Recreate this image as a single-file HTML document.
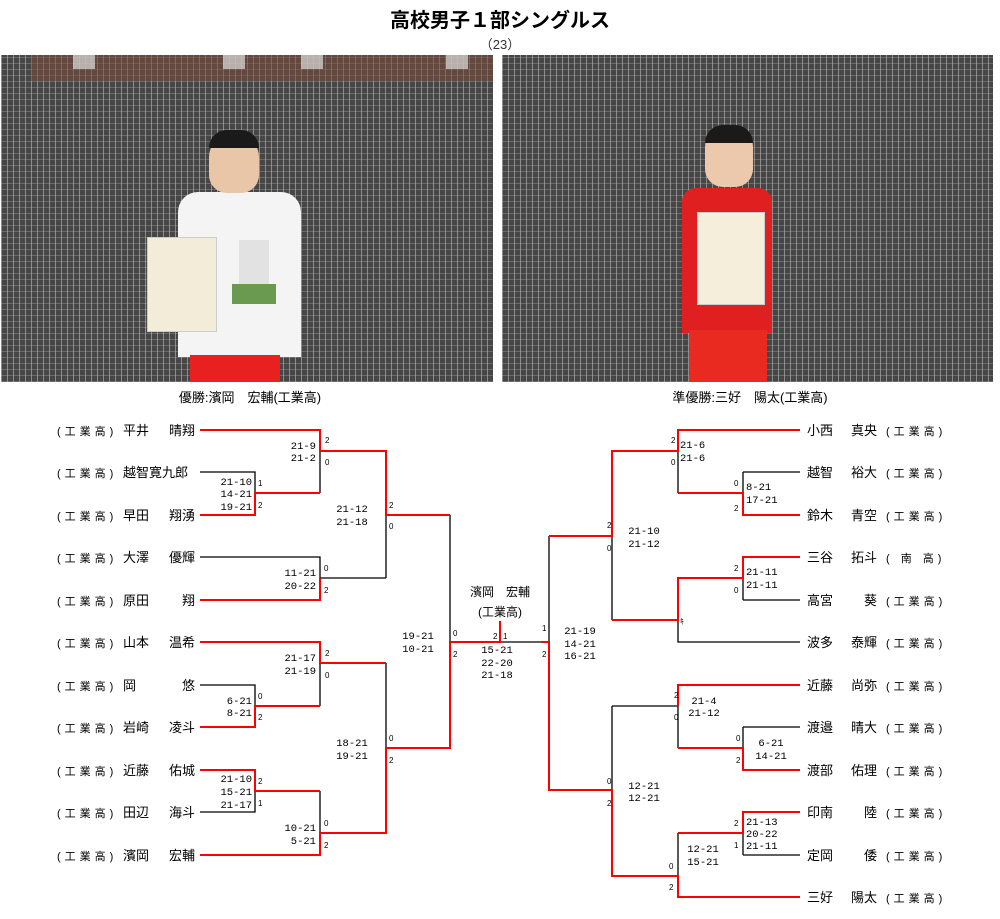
<!DOCTYPE html>
<html><head><meta charset="utf-8"><style>
html,body{margin:0;padding:0;background:#fff;}
body{width:1000px;height:919px;position:relative;overflow:hidden;font-family:"Liberation Sans","Noto Sans CJK JP",sans-serif;}
.ph{position:absolute;top:55px;height:327px;background-color:#464646;
background-image:repeating-linear-gradient(90deg,rgba(185,185,185,.6) 0 1px,transparent 1px 6px),repeating-linear-gradient(0deg,rgba(160,160,160,.4) 0 1px,transparent 1px 6px);}
.a{position:absolute;}
</style></head><body>
<div class="a" style="left:0;top:4px;width:1000px;text-align:center;font-size:20px;font-weight:bold;">高校男子１部シングルス</div>
<div class="a" style="left:0;top:34px;width:1000px;text-align:center;font-size:13px;color:#333;">（23）</div>

<div class="ph" style="left:1px;width:492px;">
  <div class="a" style="left:30px;top:0;width:462px;height:26px;background:#7a4a38;opacity:.55"></div>
  <div class="a" style="left:72px;top:0;width:22px;height:14px;background:#ddd;opacity:.7"></div>
  <div class="a" style="left:222px;top:0;width:22px;height:14px;background:#ddd;opacity:.7"></div>
  <div class="a" style="left:300px;top:0;width:22px;height:14px;background:#ddd;opacity:.7"></div>
  <div class="a" style="left:445px;top:0;width:22px;height:14px;background:#ddd;opacity:.7"></div>
  <div class="a" style="left:177px;top:137px;width:123px;height:165px;background:#f4f4f4;border-radius:20px 20px 0 0"></div>
  <div class="a" style="left:189px;top:300px;width:90px;height:27px;background:#e82020"></div>
  <div class="a" style="left:208px;top:80px;width:50px;height:58px;background:#e9c6a8;border-radius:22px 22px 18px 18px"></div>
  <div class="a" style="left:208px;top:75px;width:50px;height:18px;background:#1a1a1a;border-radius:22px 22px 0 0"></div>
  <div class="a" style="left:146px;top:182px;width:68px;height:93px;background:#f3ecd8;border:1px solid #ccc"></div>
  <div class="a" style="left:238px;top:185px;width:30px;height:45px;background:#ddd;opacity:.8"></div>
  <div class="a" style="left:231px;top:229px;width:44px;height:20px;background:#6a9a50"></div>
</div>
<div class="ph" style="left:502px;width:491px;">
  <div class="a" style="left:180px;top:133px;width:90px;height:145px;background:#e02020;border-radius:14px 14px 0 0"></div>
  <div class="a" style="left:187px;top:275px;width:78px;height:52px;background:#e82a20"></div>
  <div class="a" style="left:203px;top:72px;width:48px;height:60px;background:#ecc9ac;border-radius:20px 20px 18px 18px"></div>
  <div class="a" style="left:203px;top:70px;width:48px;height:18px;background:#1a1a1a;border-radius:22px 22px 0 0"></div>
  <div class="a" style="left:195px;top:157px;width:66px;height:91px;background:#f5eedb;border:1px solid #ccc"></div>
</div>
<div class="a" style="left:0;top:387px;width:500px;text-align:center;font-size:13px;">優勝:濱岡　宏輔(工業高)</div>
<div class="a" style="left:500px;top:387px;width:500px;text-align:center;font-size:13px;">準優勝:三好　陽太(工業高)</div>

<svg class="a" style="left:0;top:0" width="1000" height="919" xmlns="http://www.w3.org/2000/svg">
<g fill="none" stroke-width="1.3">
<g stroke="#000">
<path d="M200 472H255V493M320 451V493M200 557H320V578M320 578H386M386 515V578M200 685H255V706M320 663V706M200 812H255V791M320 791V833M386 663V748M450 515V642M500 642H541M549 536V642"/>
<path d="M678 451V493M743 472H800M743 472V493M743 600H800M743 600V578M678 620V642H800M612 536V620M612 706H678M678 706V748M743 727H800M743 727V748M743 855H800M743 855V833M678 833V876M612 706V790"/>
</g>
<g stroke="#f00" stroke-width="2">
<path d="M200 430H320V451H386V515H450M200 515H255V493H320M200 600H320V578"/>
<path d="M200 642H320V663H386M200 727H255V706H320M200 770H255V791H320M200 855H320V833H386V748H450V642H500V621M541 642H549V790H612V876H678V897H800"/>
<path d="M800 430H678V451H612V536H549M800 515H743V493H678M800 557H743V578H678V620H612M800 685H678V706M800 770H743V748H678M800 812H743V833H678"/>
</g>
</g>
<g font-size="13" fill="#000">
<g font-size="11" letter-spacing="4"><text x="57" y="435">(工業高)</text><text x="57" y="477">(工業高)</text><text x="57" y="520">(工業高)</text><text x="57" y="562">(工業高)</text><text x="57" y="605">(工業高)</text><text x="57" y="647">(工業高)</text><text x="57" y="690">(工業高)</text><text x="57" y="732">(工業高)</text><text x="57" y="775">(工業高)</text><text x="57" y="817">(工業高)</text><text x="57" y="860">(工業高)</text></g>
<text x="123" y="435">平井</text><text x="195" y="435" text-anchor="end">晴翔</text>
<text x="123" y="477">越智寛九郎</text>
<text x="123" y="520">早田</text><text x="195" y="520" text-anchor="end">翔湧</text>
<text x="123" y="562">大澤</text><text x="195" y="562" text-anchor="end">優輝</text>
<text x="123" y="605">原田</text><text x="195" y="605" text-anchor="end">翔</text>
<text x="123" y="647">山本</text><text x="195" y="647" text-anchor="end">温希</text>
<text x="123" y="690">岡</text><text x="195" y="690" text-anchor="end">悠</text>
<text x="123" y="732">岩崎</text><text x="195" y="732" text-anchor="end">凌斗</text>
<text x="123" y="775">近藤</text><text x="195" y="775" text-anchor="end">佑城</text>
<text x="123" y="817">田辺</text><text x="195" y="817" text-anchor="end">海斗</text>
<text x="123" y="860">濱岡</text><text x="195" y="860" text-anchor="end">宏輔</text>

<g font-size="11" letter-spacing="4"><text x="886" y="435">(工業高)</text><text x="886" y="477">(工業高)</text><text x="886" y="520">(工業高)</text><text x="886" y="562">( 南 高)</text><text x="886" y="605">(工業高)</text><text x="886" y="647">(工業高)</text><text x="886" y="690">(工業高)</text><text x="886" y="732">(工業高)</text><text x="886" y="775">(工業高)</text><text x="886" y="817">(工業高)</text><text x="886" y="860">(工業高)</text><text x="886" y="902">(工業高)</text></g>
<text x="807" y="435">小西</text><text x="877" y="435" text-anchor="end">真央</text>
<text x="807" y="477">越智</text><text x="877" y="477" text-anchor="end">裕大</text>
<text x="807" y="520">鈴木</text><text x="877" y="520" text-anchor="end">青空</text>
<text x="807" y="562">三谷</text><text x="877" y="562" text-anchor="end">拓斗</text>
<text x="807" y="605">高宮</text><text x="877" y="605" text-anchor="end">葵</text>
<text x="807" y="647">波多</text><text x="877" y="647" text-anchor="end">泰輝</text>
<text x="807" y="690">近藤</text><text x="877" y="690" text-anchor="end">尚弥</text>
<text x="807" y="732">渡邉</text><text x="877" y="732" text-anchor="end">晴大</text>
<text x="807" y="775">渡部</text><text x="877" y="775" text-anchor="end">佑理</text>
<text x="807" y="817">印南</text><text x="877" y="817" text-anchor="end">陸</text>
<text x="807" y="860">定岡</text><text x="877" y="860" text-anchor="end">倭</text>
<text x="807" y="902">三好</text><text x="877" y="902" text-anchor="end">陽太</text>

<text x="500" y="596" text-anchor="middle" font-size="12">濱岡　宏輔</text>
<text x="500" y="616" text-anchor="middle" font-size="12">(工業高)</text>
</g>
<g font-size="10.5" font-family="Liberation Mono,monospace" fill="#000">
<g text-anchor="end">
<text x="316" y="449">21-9</text><text x="316" y="461">21-2</text>
<text x="252" y="485">21-10</text><text x="252" y="497">14-21</text><text x="252" y="510">19-21</text>
<text x="316" y="576">11-21</text><text x="316" y="589">20-22</text>
<text x="316" y="661">21-17</text><text x="316" y="674">21-19</text>
<text x="252" y="704">6-21</text><text x="252" y="716">8-21</text>
<text x="252" y="782">21-10</text><text x="252" y="795">15-21</text><text x="252" y="808">21-17</text>
<text x="316" y="831">10-21</text><text x="316" y="844">5-21</text>
</g>
<g text-anchor="middle">
<text x="352" y="512">21-12</text><text x="352" y="525">21-18</text>
<text x="352" y="746">18-21</text><text x="352" y="759">19-21</text>
<text x="418" y="639">19-21</text><text x="418" y="652">10-21</text>
<text x="497" y="653">15-21</text><text x="497" y="666">22-20</text><text x="497" y="678">21-18</text>
<text x="580" y="634">21-19</text><text x="580" y="647">14-21</text><text x="580" y="659">16-21</text>
<text x="644" y="534">21-10</text><text x="644" y="547">21-12</text>
<text x="704" y="704">21-4</text><text x="704" y="716">21-12</text>
<text x="771" y="746">6-21</text><text x="771" y="759">14-21</text>
<text x="644" y="789">12-21</text><text x="644" y="801">12-21</text>
<text x="703" y="852">12-21</text><text x="703" y="865">15-21</text>
</g>
<text x="680" y="448">21-6</text><text x="680" y="461">21-6</text>
<text x="746" y="490">8-21</text><text x="746" y="503">17-21</text>
<text x="746" y="575">21-11</text><text x="746" y="588">21-11</text>
<text x="746" y="825">21-13</text><text x="746" y="837">20-22</text><text x="746" y="849">21-11</text>
</g>
<g font-size="8" font-family="Liberation Sans,sans-serif" fill="#000">
<text x="325" y="443">2</text><text x="325" y="465">0</text>
<text x="258" y="486">1</text><text x="258" y="508">2</text>
<text x="389" y="508">2</text><text x="389" y="529">0</text>
<text x="324" y="571">0</text><text x="324" y="593">2</text>
<text x="325" y="656">2</text><text x="325" y="678">0</text>
<text x="258" y="699">0</text><text x="258" y="720">2</text>
<text x="389" y="741">0</text><text x="389" y="763">2</text>
<text x="258" y="784">2</text><text x="258" y="806">1</text>
<text x="324" y="826">0</text><text x="324" y="848">2</text>
<text x="453" y="636">0</text><text x="453" y="657">2</text>
<text x="493" y="639">2</text><text x="503" y="639">1</text>
<text x="542" y="631">1</text><text x="542" y="657">2</text>
<text x="671" y="443">2</text><text x="671" y="465">0</text>
<text x="734" y="486">0</text><text x="734" y="511">2</text>
<text x="607" y="528">2</text><text x="607" y="551">0</text>
<text x="734" y="571">2</text><text x="734" y="593">0</text>
<text x="680" y="624">ｷ</text>
<text x="674" y="698">2</text><text x="674" y="720">0</text>
<text x="736" y="741">0</text><text x="736" y="763">2</text>
<text x="607" y="784">0</text><text x="607" y="806">2</text>
<text x="734" y="826">2</text><text x="734" y="848">1</text>
<text x="669" y="869">0</text><text x="669" y="890">2</text>
</g>
</svg>
</body></html>
